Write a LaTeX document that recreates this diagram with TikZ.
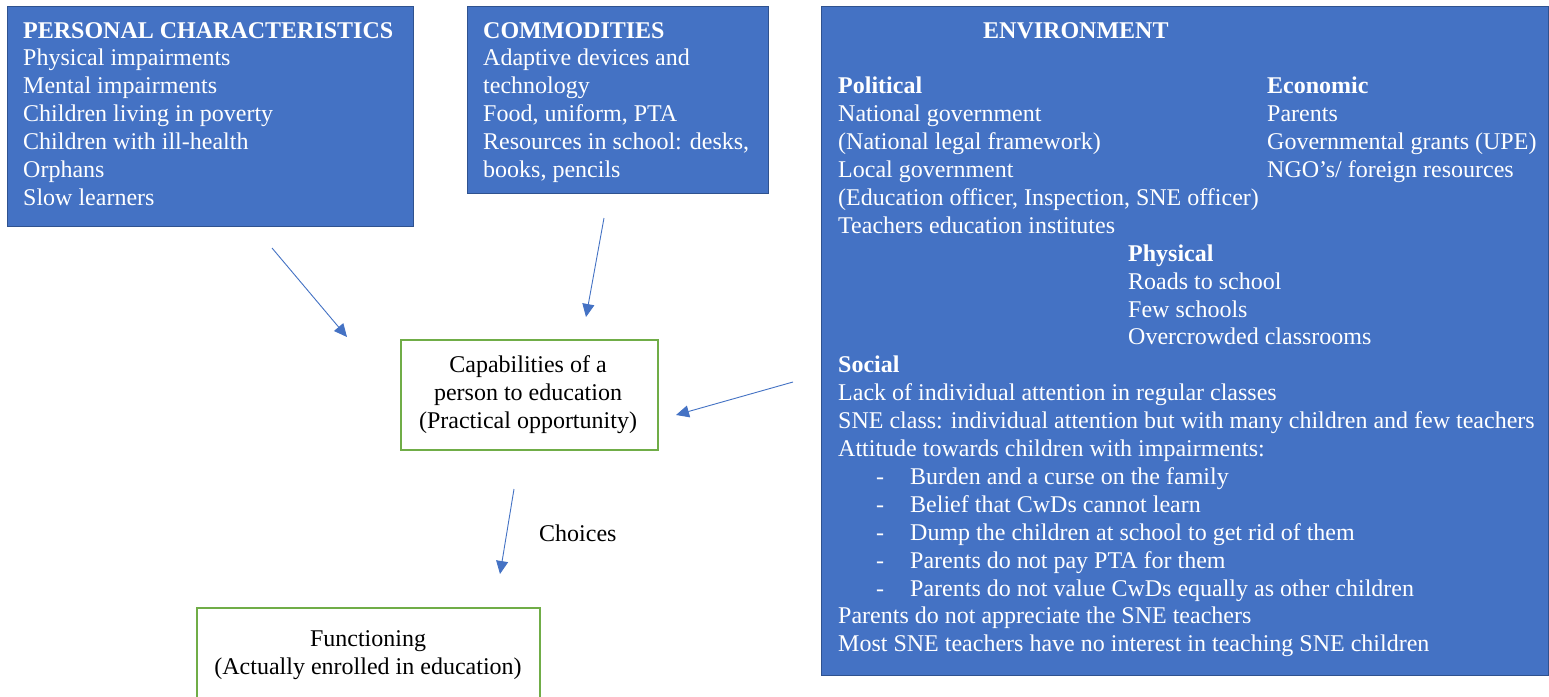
\documentclass[tikz,border=0pt]{standalone}
\usepackage{fontspec}
\setmainfont{Liberation Serif}
\usetikzlibrary{arrows.meta}
\definecolor{boxblue}{HTML}{4472C4}
\definecolor{boxedge}{HTML}{2F528F}
\definecolor{boxgreen}{HTML}{70AD47}
\definecolor{arrowblue}{HTML}{4472C4}
\tikzset{
  bluebox/.style={draw=boxedge, line width=1.2pt, fill=boxblue, inner sep=0pt, anchor=north west},
  greenbox/.style={draw=boxgreen, line width=1.6pt, fill=white, inner sep=0pt, anchor=north west},
  wtext/.style={text=white, font=\fontsize{24}{27.9}\selectfont, align=left, inner sep=0pt, anchor=base west},
  ktext/.style={text=black, font=\fontsize{24}{27.9}\selectfont, align=center, inner sep=0pt, anchor=base},
  conn/.style={draw=arrowblue, line width=0.9pt, -{Triangle[length=13pt,width=12pt]}}
}
\newcommand{\dashitem}[1]{\hspace*{38pt}\makebox[34pt][l]{-}#1}
\begin{document}
\begin{tikzpicture}[x=1pt,y=-1pt]
\useasboundingbox (0,0) rectangle (1549,696);
\fill[white] (0,0) rectangle (1549,696);
% boxes
\node[bluebox, minimum width=406pt, minimum height=220pt] (pbox) at (7,6) {};
\node[bluebox, minimum width=301pt, minimum height=187pt] (cbox) at (467,6) {};
\node[bluebox, minimum width=727pt, minimum height=669pt] (ebox) at (821,6) {};
\node[greenbox, minimum width=257pt, minimum height=110pt] (capbox) at (400,339) {};
\node[greenbox, minimum width=343pt, minimum height=120pt] (funcbox) at (196,607) {};
% (base anchor of a multi-line node = baseline of its last line)
% personal characteristics
\node[wtext] (ptext) at (23,205.4) {\textbf{PERSONAL CHARACTERISTICS}\\Physical impairments\\Mental impairments\\Children living in poverty\\Children with ill-health\\Orphans\\Slow learners};
% commodities
\node[wtext] (ctext) at (483,177.5) {\textbf{COMMODITIES}\\Adaptive devices and\\technology\\Food, uniform, PTA\\Resources in school: desks,\\books, pencils};
% environment
\node[wtext] (etitle) at (983,38) {\textbf{ENVIRONMENT}};
\node[wtext] (epol) at (838,233.3) {\textbf{Political}\\National government\\(National legal framework)\\Local government\\(Education officer, Inspection, SNE officer)\\Teachers education institutes};
\node[wtext] (eeco) at (1267,177.5) {\textbf{Economic}\\Parents\\Governmental grants (UPE)\\NGO’s/ foreign resources};
\node[wtext] (ephy) at (1128,344.9) {\textbf{Physical}\\Roads to school\\Few schools\\Overcrowded classrooms};
\node[wtext] (esoc) at (838,651.8) {\textbf{Social}\\Lack of individual attention in regular classes\\SNE class: individual attention but with many children and few teachers\\Attitude towards children with impairments:\\\dashitem{Burden and a curse on the family}\\\dashitem{Belief that CwDs cannot learn}\\\dashitem{Dump the children at school to get rid of them}\\\dashitem{Parents do not pay PTA for them}\\\dashitem{Parents do not value CwDs equally as other children}\\Parents do not appreciate the SNE teachers\\Most SNE teachers have no interest in teaching SNE children};
% green boxes text
\node[ktext] (captext) at (528,428) {Capabilities of a\\person to education\\(Practical opportunity)};
\node[ktext] (functext) at (368,674) {Functioning\\(Actually enrolled in education)};
\node[text=black, font=\fontsize{24}{27.9}\selectfont, inner sep=0pt, anchor=base west] (choices) at (539,541) {Choices};
% arrow end points
\coordinate (a1s) at (272,248); \coordinate (a1e) at (347,337);
\coordinate (a2s) at (604,218); \coordinate (a2e) at (586,317);
\coordinate (a3s) at (793,382); \coordinate (a3e) at (676,415);
\coordinate (a4s) at (514,489); \coordinate (a4e) at (500,574);
\draw[conn] (a1s) -- (a1e);
\draw[conn] (a2s) -- (a2e);
\draw[conn] (a3s) -- (a3e);
\draw[conn] (a4s) -- (a4e);
\end{tikzpicture}
\end{document}
